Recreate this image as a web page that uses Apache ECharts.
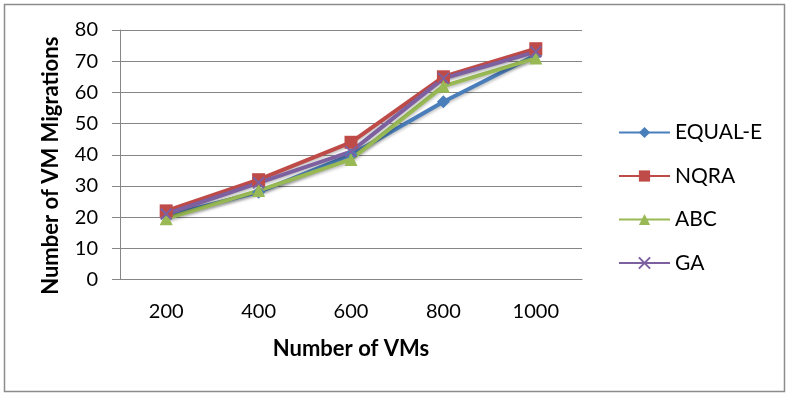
<!DOCTYPE html>
<html>
<head>
<meta charset="utf-8">
<script src="https://cdn.jsdelivr.net/npm/echarts@6/dist/echarts.min.js"></script>
<style>
html,body{margin:0;padding:0;background:#fff;}
#chart{width:788px;height:394px;}
</style>
</head>
<body>
<div id="chart"></div>
<script>
const categories = ['200', '400', '600', '800', '1000'];
const equalE = [20.5, 28, 40, 57, 72];
const nqra = [22, 32, 44, 65, 74];
const abc = [19.5, 28.5, 38.5, 62, 71];
const ga = [21, 31, 41, 64.5, 73];
const yTicks = { min: 0, max: 80, interval: 10 };

const FONT = 'Lato';
const axisGray = '#868686';

const chart = echarts.init(document.getElementById('chart'));

function mk(name, data, color, symbol, size, extra) {
  return Object.assign({
    name: name,
    type: 'line',
    data: data,
    symbol: symbol,
    symbolSize: size,
    showAllSymbol: true,
    lineStyle: { color: color, width: 4, shadowColor: 'rgba(0,0,0,0.25)', shadowBlur: 3, shadowOffsetY: 2 },
    itemStyle: { color: color },
    emphasis: { disabled: true },
    animation: false
  }, extra || {});
}

chart.setOption({
  animation: false,
  graphic: [{
    type: 'rect',
    shape: { x: 4.5, y: 4.5, width: 780, height: 387 },
    style: { fill: 'none', stroke: '#8c8c8c', lineWidth: 1.5 },
    silent: true
  }],
  grid: { left: 120, right: 206, top: 30, bottom: 114.5, containLabel: false },
  legend: {
    orient: 'vertical',
    left: 613,
    top: 117,
    itemWidth: 51,
    itemHeight: 14,
    itemGap: 22.5,
    textStyle: { fontFamily: FONT, fontSize: 21, color: '#000' },
    data: ['EQUAL-E', 'NQRA', 'ABC', 'GA']
  },
  xAxis: {
    type: 'category',
    data: categories,
    boundaryGap: true,
    name: 'Number of VMs',
    nameLocation: 'middle',
    nameGap: 58,
    nameTextStyle: { fontFamily: FONT, fontWeight: 'bold', fontSize: 22, color: '#000' },
    axisLine: { lineStyle: { color: axisGray, width: 1 } },
    axisTick: { show: false },
    axisLabel: { fontFamily: FONT, fontSize: 20, color: '#000', margin: 22 }
  },
  yAxis: {
    type: 'value',
    min: yTicks.min,
    max: yTicks.max,
    interval: yTicks.interval,
    name: 'Number of VM Migrations',
    nameLocation: 'middle',
    nameGap: 58,
    nameTextStyle: { fontFamily: FONT, fontWeight: 'bold', fontSize: 22, color: '#000', padding: [0, 22, 0, 0] },
    axisLine: { show: true, lineStyle: { color: axisGray, width: 1 } },
    axisTick: { show: true, length: 8, lineStyle: { color: axisGray } },
    splitLine: { show: true, lineStyle: { color: axisGray, width: 1 } },
    axisLabel: { fontFamily: FONT, fontSize: 20, color: '#000', margin: 22 }
  },
  series: [
    mk('EQUAL-E', equalE, '#4a7ebb', 'diamond', 13),
    mk('NQRA', nqra, '#be4b48', 'rect', 13),
    mk('ABC', abc, '#98b954', 'triangle', 13),
    mk('GA', ga, '#7d60a0', 'path://M0,0L10,10M10,0L0,10', 11, {
      itemStyle: { color: '#7d60a0', borderColor: '#7d60a0', borderWidth: 2 }
    })
  ]
});
</script>
</body>
</html>
